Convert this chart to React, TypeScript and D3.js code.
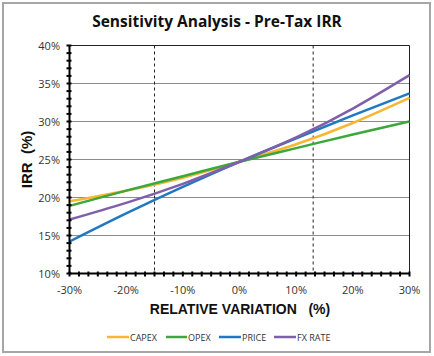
import React from "react";
import * as d3 from "d3";

const variations = [-30, -20, -10, 0, 10, 20, 30];
const capex = [19.5, 20.9, 22.6, 24.7, 27.0, 29.8, 33.1];
const opex = [18.9, 20.9, 22.8, 24.7, 26.5, 28.3, 30.0];
const price = [14.2, 17.9, 21.4, 24.7, 27.8, 30.8, 33.7];
const fxRate = [17.1, 19.3, 21.8, 24.7, 27.9, 31.7, 36.1];
const seriesNames = ["CAPEX", "OPEX", "PRICE", "FX RATE"];
const seriesColors = ["#F7B733", "#3CA83C", "#1F78C1", "#7F5FAA"];
const yTicks = [10, 15, 20, 25, 30, 35, 40];
const xTicks = [-30, -20, -10, 0, 10, 20, 30];
const dashedAt = [-15, 13];

const W = 434;
const H = 356;
const L = 69.5, R = 409.5, T = 45.5, B = 273.5;

export default function App() {
  const x = d3.scaleLinear().domain([-30, 30]).range([L, R]);
  const y = d3.scaleLinear().domain([10, 40]).range([B, T]);
  const allSeries = [capex, opex, price, fxRate];
  const line = d3
    .line<number>()
    .x((_, i) => x(variations[i]))
    .y((d) => y(d))
    .curve(d3.curveNatural);

  const yMinor = d3.range(10, 40.001, 1);
  const xMinor = d3.range(0, 37).map((i) => -30 + (i * 10) / 6);

  const legendItems = [
    { lx: 107, tx: 129 },
    { lx: 166, tx: 187 },
    { lx: 219, tx: 241 },
    { lx: 274, tx: 296 },
  ];

  const body = "'Open Sans', sans-serif";

  return (
    <svg width={W} height={H} style={{ position: "absolute", left: 0, top: 0 }}>
      <rect x={0} y={0} width={W} height={H} fill="#fff" />
      <rect x={3} y={3} width={427} height={349} fill="#fff" stroke="#A6A6A6" strokeWidth={2} />
      <text x={217} y={27} textAnchor="middle" fontFamily={body} fontWeight="bold" fontSize={15.5} fill="#111">
        Sensitivity Analysis - Pre-Tax IRR
      </text>
      {yTicks.slice(1, -1).map((t) => (
        <line key={t} x1={L} x2={R} y1={y(t)} y2={y(t)} stroke="#8C8C8C" strokeWidth={1} />
      ))}
      <line x1={L} x2={R} y1={T} y2={T} stroke="#222" strokeWidth={1} />
      <line x1={R} x2={R} y1={T} y2={B} stroke="#222" strokeWidth={1} />
      {dashedAt.map((d) => (
        <line key={d} x1={x(d)} x2={x(d)} y1={T} y2={B} stroke="#222" strokeWidth={1} strokeDasharray="3,3" />
      ))}
      {allSeries.map((s, i) => (
        <path key={i} d={line(s) || ""} fill="none" stroke={seriesColors[i]} strokeWidth={2.5} />
      ))}
      <line x1={L} x2={L} y1={T} y2={B} stroke="#000" strokeWidth={2} />
      <line x1={L} x2={R} y1={B} y2={B} stroke="#000" strokeWidth={2} />
      {yMinor.map((t) => (
        <line key={"ym" + t} x1={L - 3} x2={L + 2} y1={y(t)} y2={y(t)} stroke="#000" strokeWidth={2} />
      ))}
      {xMinor.map((t, i) => (
        <line key={"xm" + i} x1={x(t)} x2={x(t)} y1={B - 2} y2={B + 3} stroke="#000" strokeWidth={2} />
      ))}
      {yTicks.map((t) => (
        <text key={"yl" + t} x={60} y={y(t) + 4} textAnchor="end" fontFamily={body} fontSize={11} fill="#333">
          {t}%
        </text>
      ))}
      {xTicks.map((t) => (
        <text key={"xl" + t} x={x(t)} y={294} textAnchor="middle" fontFamily={body} fontSize={11} fill="#333">
          {t}%
        </text>
      ))}
      <text
        transform={`translate(32, ${(T + B) / 2}) rotate(-90)`}
        textAnchor="middle"
        fontFamily="'Liberation Sans', Arial, sans-serif"
        fontWeight="bold"
        fontSize={15}
        fill="#111"
        style={{ whiteSpace: "pre" }}
      >
        {"IRR  (%)"}
      </text>
      <text
        x={240}
        y={314}
        textAnchor="middle"
        fontFamily="'Liberation Sans', Arial, sans-serif"
        fontWeight="bold"
        fontSize={14}
        fill="#111"
        style={{ whiteSpace: "pre" }}
      >
        {"RELATIVE VARIATION   (%)"}
      </text>
      {seriesNames.map((n, i) => (
        <g key={n}>
          <line
            x1={legendItems[i].lx}
            x2={legendItems[i].tx}
            y1={337}
            y2={337}
            stroke={seriesColors[i]}
            strokeWidth={2.5}
          />
          <text x={legendItems[i].tx + 1} y={340.5} fontFamily={body} fontSize={9} fill="#333">
            {n}
          </text>
        </g>
      ))}
    </svg>
  );
}
